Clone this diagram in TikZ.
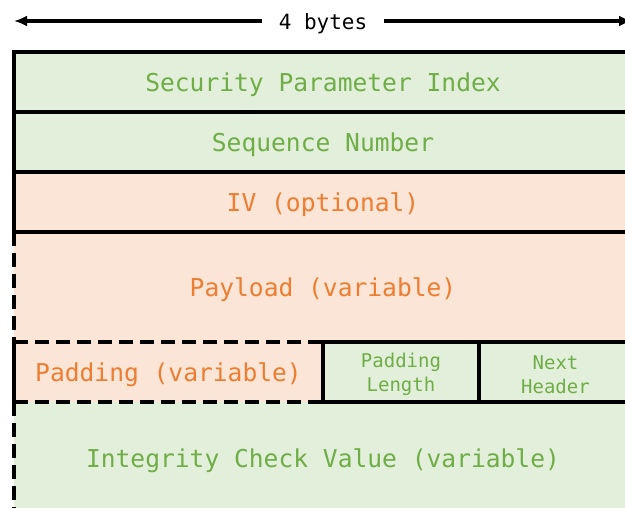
\documentclass[tikz,border=0pt]{standalone}
\usepackage{fontspec}
\setmonofont{DejaVu Sans Mono}
\usetikzlibrary{arrows.meta}
\definecolor{gfill}{HTML}{E2EFDA}
\definecolor{gtext}{HTML}{70AD47}
\definecolor{ofill}{HTML}{FBE5D6}
\definecolor{otext}{HTML}{ED7D31}
\newcommand{\bigfield}{\ttfamily\fontsize{24.6}{29}\selectfont}
\newcommand{\smallfield}{\ttfamily\fontsize{19}{24}\selectfont}
\newcommand{\low}[1]{\raisebox{-2.5pt}[\height][\depth]{#1}}
\begin{document}
\begin{tikzpicture}[x=1pt,y=-1pt,
  field/.style={rectangle, inner sep=0pt, outer sep=0pt, anchor=north west},
  gbox/.style={field, fill=gfill, text=gtext},
  obox/.style={field, fill=ofill, text=otext},
  edge/.style={line width=3.4pt, black},
  dashedge/.style={line width=3.4pt, black, dash pattern=on 14pt off 7pt},
  dim/.style={line width=3.4pt, black, -{Latex[length=13pt,width=11pt]}}]
\useasboundingbox (0,0) rectangle (625,507);
\clip (0,0) rectangle (625,507);
% fields
\node[gbox, font=\bigfield, minimum width=618pt, minimum height=60pt] (spi) at (14,52) {\low{Security Parameter Index}};
\node[gbox, font=\bigfield, minimum width=618pt, minimum height=60pt] (seq) at (14,112) {\low{Sequence Number}};
\node[obox, font=\bigfield, minimum width=618pt, minimum height=60pt] (iv) at (14,172) {\low{IV (optional)}};
\node[obox, font=\bigfield, minimum width=618pt, minimum height=110pt] (pay) at (14,232) {\low{Payload (variable)}};
\node[obox, font=\bigfield, minimum width=309pt, minimum height=60pt] (pad) at (14,342) {\low{Padding (variable)}};
\node[gbox, font=\smallfield, align=center, minimum width=156pt, minimum height=60pt] (pl) at (323,342) {\low{Padding}\\\low{Length}};
\node[gbox, font=\smallfield, align=center, minimum width=153pt, minimum height=60pt] (nh) at (479,342) {\low{Next}\\\low{Header}};
\node[gbox, font=\bigfield, minimum width=618pt, minimum height=112pt] (icv) at (14,402) {\low{Integrity Check Value (variable)}};
% solid borders
\draw[edge] (spi.north east) -- (spi.north west) -- (iv.south west);
\draw[edge] (spi.south west) -- (spi.south east);
\draw[edge] (seq.south west) -- (seq.south east);
\draw[edge] (iv.south west) -- (iv.south east);
\draw[edge] (pl.south west) rectangle (nh.north east);
\draw[edge] (pl.north east) -- (pl.south east);
\draw[edge] (pad.north west) -- (pad.south west);
% dashed borders
\draw[dashedge] (pay.north west) -- (pay.south west);
\draw[dashedge] (pad.north west) -- (pad.north east);
\draw[dashedge] (pad.south west) -- (pad.south east);
\draw[dashedge] (icv.north west) -- (icv.south west);
% width arrow
\node[font=\ttfamily\fontsize{21}{25}\selectfont, inner xsep=17pt] (bytes) at (323,21) {\low{4 bytes}};
\coordinate (left) at (14,21);
\coordinate (right) at (632,21);
\draw[dim] (bytes.west) -- (left);
\draw[dim] (bytes.east) -- (right);
\end{tikzpicture}
\end{document}
